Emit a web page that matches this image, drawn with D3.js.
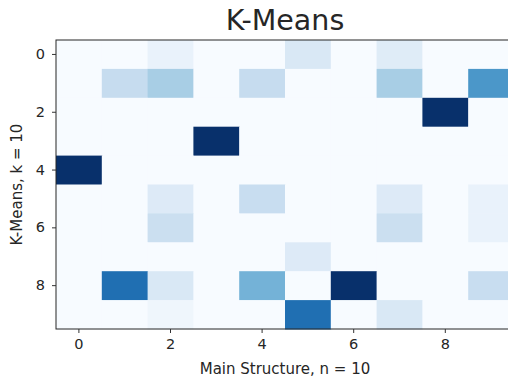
<!DOCTYPE html>
<html>
<head>
<meta charset="utf-8">
<script src="https://cdn.jsdelivr.net/npm/d3@7"></script>
<style>
  body { margin: 0; background: #fff; }
  text { font-family: "DejaVu Sans", sans-serif; fill: #262626; }
  .axis path { display: none; }
  .axis line { stroke: #333; }
</style>
</head>
<body>
<div id="chart"></div>
<script>
const WIDTH = 508, HEIGHT = 377;
const M = { top: 40, left: 56 };
const cellW = 45.8, cellH = 28.9;

// rows = K-Means clusters, cols = main structure groups (normalised 0..1)
const rowIds = [0, 1, 2, 3, 4, 5, 6, 7, 8, 9];
const colIds = [0, 1, 2, 3, 4, 5, 6, 7, 8, 9];
const row0 = [0, 0, 0.07, 0, 0, 0.15, 0, 0.12, 0, 0];
const row1 = [0, 0.24, 0.34, 0, 0.24, 0, 0, 0.34, 0, 0.6];
const row2 = [0, 0, 0, 0, 0, 0, 0, 0, 1, 0];
const row3 = [0, 0, 0, 1, 0, 0, 0, 0, 0, 0];
const row4 = [1, 0, 0, 0, 0, 0, 0, 0, 0, 0];
const row5 = [0, 0, 0.13, 0, 0.23, 0, 0, 0.13, 0, 0.07];
const row6 = [0, 0, 0.22, 0, 0, 0, 0, 0.22, 0, 0.07];
const row7 = [0, 0, 0, 0, 0, 0.13, 0, 0, 0, 0];
const row8 = [0, 0.76, 0.15, 0, 0.48, 0, 1, 0, 0, 0.23];
const row9 = [0, 0, 0.04, 0, 0, 0.76, 0, 0.15, 0, 0];
const matrix = [row0, row1, row2, row3, row4, row5, row6, row7, row8, row9];
const tickVals = [0, 2, 4, 6, 8];

const innerW = cellW * colIds.length, innerH = cellH * rowIds.length;

const svg = d3.select("#chart").append("svg")
  .attr("width", WIDTH).attr("height", HEIGHT);

const g = svg.append("g").attr("transform", `translate(${M.left},${M.top})`);

const x = d3.scaleBand().domain(colIds).range([0, innerW]);
const y = d3.scaleBand().domain(rowIds).range([0, innerH]);
const color = d3.scaleSequential(d3.interpolateBlues).domain([0, 1]);

const cells = [];
matrix.forEach((row, r) => row.forEach((v, c) => cells.push({ r, c, v })));

g.selectAll(".cell").data(cells).join("rect")
  .attr("class", "cell")
  .attr("x", d => x(d.c)).attr("y", d => y(d.r))
  .attr("width", x.bandwidth() + 0.5).attr("height", y.bandwidth() + 0.5)
  .attr("fill", d => color(d.v));

// frame
g.append("rect")
  .attr("width", innerW).attr("height", innerH)
  .attr("fill", "none").attr("stroke", "#262626").attr("stroke-width", 1);

// axes
g.append("g").attr("class", "axis")
  .attr("transform", `translate(0,${innerH})`)
  .call(d3.axisBottom(x).tickValues(tickVals).tickSize(4).tickPadding(6));
g.append("g").attr("class", "axis")
  .call(d3.axisLeft(y).tickValues(tickVals).tickSize(4).tickPadding(7));
g.selectAll(".axis text").attr("font-family", null)
  .style("font-size", "14.5px").attr("fill", "#262626");

// title & labels
svg.append("text")
  .attr("x", M.left + innerW / 2).attr("y", 30)
  .attr("text-anchor", "middle").style("font-size", "28.5px")
  .text("K-Means");

svg.append("text")
  .attr("x", M.left + innerW / 2).attr("y", 374)
  .attr("text-anchor", "middle").style("font-size", "15px")
  .text("Main Structure, n = 10");

svg.append("text")
  .attr("transform", `translate(22, ${M.top + innerH / 2}) rotate(-90)`)
  .attr("text-anchor", "middle").style("font-size", "15px")
  .text("K-Means, k = 10");
</script>
</body>
</html>
